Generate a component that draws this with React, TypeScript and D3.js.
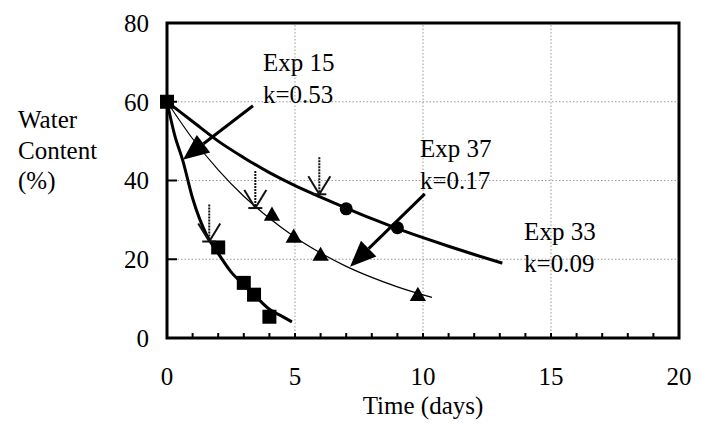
import React from 'react';
import * as d3 from 'd3';

// axis ticks
const xTickLabels = [0, 5, 10, 15, 20];
const yTickLabels = [0, 20, 40, 60, 80];
const xMinorTicks = [1, 2, 3, 4, 5, 6, 7, 8, 9, 10, 11, 12, 13, 14, 15, 16, 17, 18, 19];
const gridX = [5, 10, 15];
const gridY = [20, 40, 60];

// fitted curves [time, water content]
const exp15Curve: [number, number][] = [
  [0, 60], [0.3, 51.5], [0.62, 45], [1, 35.5], [1.56, 26], [2, 21.5],
  [2.5, 16.8], [3, 13.5], [3.4, 11], [4, 7.3], [4.5, 5.5], [4.88, 4.1],
];
const exp37Curve: [number, number][] = [
  [0, 60], [1, 50.6], [2, 42.7], [3, 36], [3.45, 33.4], [4, 30.4], [5, 25.6],
  [6, 21.6], [7, 18.2], [8, 15.4], [9, 13], [10.35, 10.3],
];
const exp33Curve: [number, number][] = [
  [0, 60], [1, 55], [2, 50], [3, 45.8], [4, 42], [5, 38.7], [6, 35.8],
  [7, 33], [8, 30.3], [9, 27.8], [10, 25.5], [11, 23.3], [12, 21.2], [13.1, 19],
];

// measured points
const exp15Points: [number, number][] = [[0, 60], [2, 23], [3, 14], [3.4, 11], [4, 5.4]];
const exp37Points: [number, number][] = [[4.1, 31], [4.95, 25.4], [6, 20.8], [9.8, 10.6]];
const exp33Points: [number, number][] = [[7, 32.8], [9, 28]];

// small down-arrows marking a point on each curve
const markArrows: [number, number][] = [[1.65, 24.5], [3.45, 33], [5.95, 36.5]];

// labels: lines, anchor (time, value) of first baseline
const labels = [
  { lines: ['Exp 15', 'k=0.53'], at: [3.75, 67.8] },
  { lines: ['Exp 37', 'k=0.17'], at: [9.88, 46] },
  { lines: ['Exp 33', 'k=0.09'], at: [13.95, 24.9] },
];

// big arrows from label to curve: [from, to]
const labelArrows: [[number, number], [number, number]][] = [
  [[3.36, 59], [0.62, 45.3]],
  [[10.07, 36.6], [7.15, 18.1]],
];

const W = 710;
const H = 426;
const margin = { top: 23, right: 31, bottom: 88, left: 167 };
const font = "Times New Roman, Liberation Serif, Tinos, DejaVu Serif, Noto Serif, serif";

export default function App() {
  const x = d3.scaleLinear().domain([0, 20]).range([margin.left, W - margin.right]);
  const y = d3.scaleLinear().domain([0, 80]).range([H - margin.bottom, margin.top]);

  const line = d3
    .line<[number, number]>()
    .x((d) => x(d[0]))
    .y((d) => y(d[1]))
    .curve(d3.curveMonotoneX);

  const sq = 14;
  const tri = d3.symbol(d3.symbolTriangle, 115)();
  const x0 = x(0);
  const x1 = x(20);
  const y0 = y(0);
  const y1 = y(80);

  return (
    <svg
      width={W}
      height={H}
      style={{ position: 'absolute', left: 0, top: 0, background: '#fff' }}
    >
      <style>{`text { font-family: ${font}; }`}</style>

      {/* grid */}
      <g stroke="#999" strokeWidth={1} strokeDasharray="1.5,2">
        {gridX.map((v) => (
          <line key={'gx' + v} x1={x(v)} x2={x(v)} y1={y0} y2={y1} />
        ))}
        {gridY.map((v) => (
          <line key={'gy' + v} x1={x0} x2={x1} y1={y(v)} y2={y(v)} />
        ))}
      </g>

      {/* ticks */}
      <g stroke="#000" strokeWidth={2}>
        {xMinorTicks.map((v) => (
          <line key={'tx' + v} x1={x(v)} x2={x(v)} y1={y0} y2={y0 - 5} />
        ))}
        {yTickLabels.map((v) => (
          <line key={'ty' + v} x1={x0} x2={x0 + 10} y1={y(v)} y2={y(v)} />
        ))}
      </g>

      {/* frame */}
      <rect x={x0} y={y1} width={x1 - x0} height={y0 - y1} fill="none" stroke="#000" strokeWidth={3} />

      {/* tick labels */}
      <g fontSize={25} fill="#000">
        {yTickLabels.map((v) => (
          <text key={'ly' + v} x={x0 - 18} y={y(v)} dy="0.35em" textAnchor="end">
            {v}
          </text>
        ))}
        {xTickLabels.map((v) => (
          <text key={'lx' + v} x={x(v)} y={y0 + 47} textAnchor="middle">
            {v}
          </text>
        ))}
      </g>

      {/* axis titles */}
      <text x={(x0 + x1) / 2} y={414} fontSize={25} textAnchor="middle">
        Time (days)
      </text>
      <text x={18} y={128} fontSize={25}>
        <tspan x={18}>Water</tspan>
        <tspan x={18} dy={31}>Content</tspan>
        <tspan x={18} dy={30}>(%)</tspan>
      </text>

      {/* curves */}
      <path d={line(exp37Curve) ?? ''} fill="none" stroke="#000" strokeWidth={1.2} />
      <path d={line(exp33Curve) ?? ''} fill="none" stroke="#000" strokeWidth={3} />
      <path d={line(exp15Curve) ?? ''} fill="none" stroke="#000" strokeWidth={3} />

      {/* markers */}
      {exp15Points.map((d, i) => (
        <rect key={'s' + i} x={x(d[0]) - sq / 2} y={y(d[1]) - sq / 2} width={sq} height={sq} fill="#000" />
      ))}
      {exp37Points.map((d, i) => (
        <path key={'t' + i} d={tri ?? ''} transform={`translate(${x(d[0])},${y(d[1])})`} fill="#000" />
      ))}
      {exp33Points.map((d, i) => (
        <circle key={'c' + i} cx={x(d[0])} cy={y(d[1])} r={6.5} fill="#000" />
      ))}

      {/* small down-arrows */}
      <g stroke="#111" strokeWidth={2} fill="none">
        {markArrows.map((d, i) => {
          const px = x(d[0]);
          const py = y(d[1]);
          return (
            <g key={'m' + i}>
              <line x1={px} x2={px} y1={py - 37} y2={py} strokeDasharray="2,1" />
              <line x1={px} x2={px - 11} y1={py} y2={py - 18} />
              <line x1={px} x2={px + 11} y1={py} y2={py - 18} />
              <line x1={px - 7} x2={px + 7} y1={py} y2={py} />
            </g>
          );
        })}
      </g>

      {/* label arrows */}
      {labelArrows.map(([from, to], i) => {
        const fx = x(from[0]);
        const fy = y(from[1]);
        const tx = x(to[0]);
        const ty = y(to[1]);
        const len = Math.hypot(tx - fx, ty - fy);
        const ux = (tx - fx) / len;
        const uy = (ty - fy) / len;
        const hl = 26;
        const hw = 11;
        const bx = tx - ux * hl;
        const by = ty - uy * hl;
        const pts = [
          [tx, ty],
          [bx - uy * hw, by + ux * hw],
          [bx + uy * hw, by - ux * hw],
        ];
        return (
          <g key={'a' + i}>
            <line x1={fx} y1={fy} x2={bx} y2={by} stroke="#000" strokeWidth={3} />
            <polygon points={pts.map((p) => p.join(',')).join(' ')} fill="#000" />
          </g>
        );
      })}

      {/* labels */}
      <g fontSize={25} fill="#000">
        {labels.map((l, i) => (
          <text key={'lab' + i} x={x(l.at[0])} y={y(l.at[1])}>
            {l.lines.map((s, j) => (
              <tspan key={j} x={x(l.at[0])} dy={j === 0 ? 0 : 32}>
                {s}
              </tspan>
            ))}
          </text>
        ))}
      </g>
    </svg>
  );
}
